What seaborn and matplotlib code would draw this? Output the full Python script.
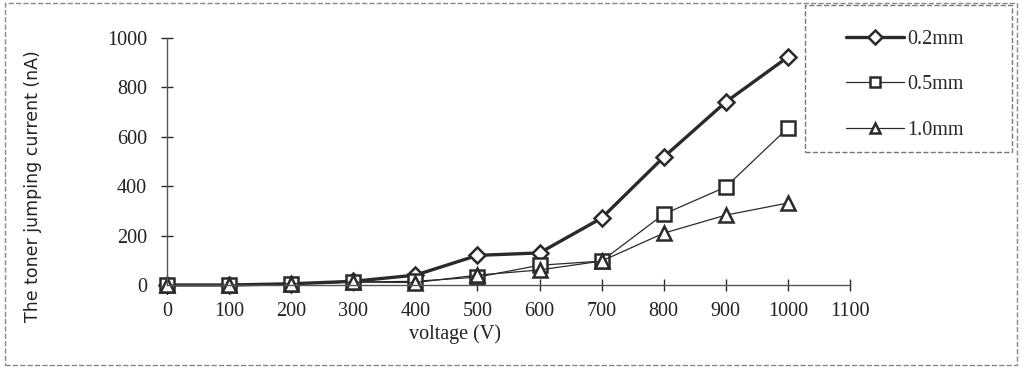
import numpy as np
import pandas as pd
import matplotlib.pyplot as plt
import seaborn as sns
from matplotlib.patches import Rectangle

voltage = [0, 100, 200, 300, 400, 500, 600, 700, 800, 900, 1000]
gap_02 = [0, 0, 5, 15, 40, 120, 130, 271, 518, 741, 923]
gap_05 = [0, 0, 5, 12, 15, 32, 80, 97, 287, 397, 636]
gap_10 = [0, 0, 5, 12, 10, 40, 61, 97, 210, 283, 332]
labels = ["0.2mm", "0.5mm", "1.0mm"]

df = pd.DataFrame({"voltage": voltage * 3,
                   "current": gap_02 + gap_05 + gap_10,
                   "gap": [l for l in labels for _ in voltage]})

sns.set_style("white")
plt.rcParams["font.family"] = ["Liberation Serif", "DejaVu Serif"]

fig = plt.figure(figsize=(10.22, 3.68), dpi=100)
ax = fig.add_axes([0.1634, 0.2255, 0.6683, 0.6712])

styles = {"0.2mm": dict(marker="D", lw=2.4, ms=8),
          "0.5mm": dict(marker="s", lw=0.9, ms=10),
          "1.0mm": dict(marker="^", lw=0.9, ms=10)}
for g in labels:
    st = styles[g]
    sns.lineplot(data=df[df["gap"] == g], x="voltage", y="current", ax=ax,
                 color="#2a2a2a", marker=st["marker"], markersize=st["ms"],
                 markerfacecolor="white", markeredgecolor="#2a2a2a",
                 markeredgewidth=1.8, linewidth=st["lw"], label=g, clip_on=False)

ax.set_xlim(0, 1100)
ax.set_ylim(0, 1000)
ax.set_xticks(range(0, 1101, 100))
ax.set_yticks(range(0, 1001, 200))
ax.tick_params(direction="inout", length=9, width=1, colors="#2a2a2a", labelsize=14.5,
               labelcolor="#222222", bottom=True, left=True)
ax.tick_params(axis="x", pad=8)
ax.tick_params(axis="y", pad=10)
for s in ["top", "right"]:
    ax.spines[s].set_visible(False)
for s in ["left", "bottom"]:
    ax.spines[s].set_color("#555555")
    ax.spines[s].set_linewidth(1)
ax.set_xlabel("voltage (V)", fontsize=14.5, color="#222222")
ax.xaxis.set_label_coords(0.4217, -0.16)
ax.set_ylabel("The toner jumping current (nA)", fontsize=12.5, color="#222222",
              family="DejaVu Sans")
ax.yaxis.set_label_coords(-0.183, 0.40)

leg = ax.legend(loc="upper left", bbox_to_anchor=(846 / 1022, 1 - 30 / 368),
                bbox_transform=fig.transFigure, fontsize=14.5, frameon=False,
                borderpad=0, labelspacing=1.3, handlelength=2.9,
                handletextpad=0.15, borderaxespad=0)
for h in leg.legend_handles:
    h.set_markersize(7)

fig.patches.append(Rectangle((805 / 1022, 1 - 152 / 368), 207 / 1022, 147 / 368,
                             transform=fig.transFigure, fill=False,
                             edgecolor="#777777", lw=1, ls="--"))
fig.patches.append(Rectangle((0.005, 0.008), 0.99, 0.984, transform=fig.transFigure,
                             fill=False, edgecolor="#888888", lw=1, ls="--"))

fig.savefig("out.png", dpi=100)
